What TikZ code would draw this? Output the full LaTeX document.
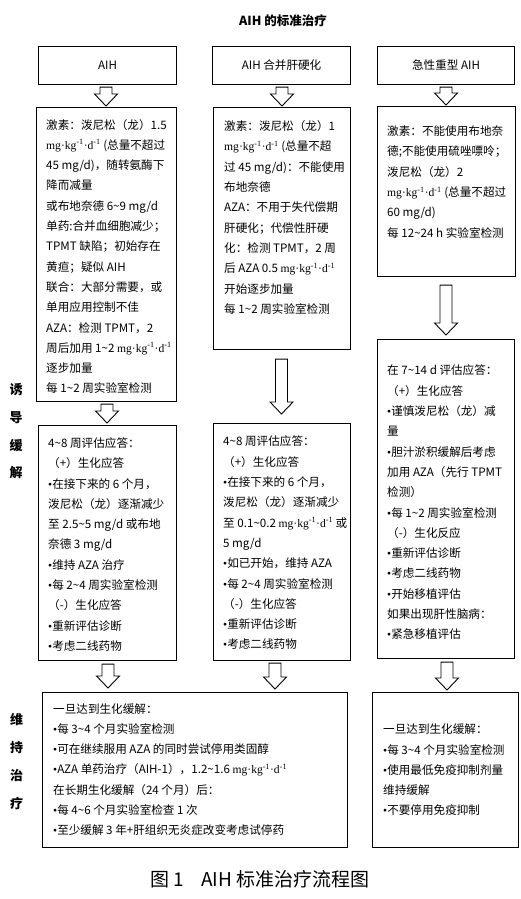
\documentclass[tikz,border=0pt]{standalone}
\usepackage{fontspec}
\setmainfont{Noto Sans CJK SC}
\newfontfamily\lat{Liberation Serif}
\usetikzlibrary{calc}
\newcommand\tl{\textasciitilde}
\newcommand\mkd{{\lat mg·kg\textsuperscript{-1}·d\textsuperscript{-1}}}
\newcommand\bul{{\lat •}}
\tikzset{
  box/.style={draw=black, line width=1.1pt, inner sep=0pt, anchor=north west,
    font=\fontsize{11.6}{14}\selectfont},
  txt/.style={font=\fontsize{11.6}{20.3}\selectfont, align=left, inner sep=0pt, anchor=west},
  side/.style={font=\fontsize{13}{27.7}\selectfont\bfseries, align=center, inner sep=0pt},
  harrow/.style={draw=black, line width=0.9pt, fill=white, line join=miter},
}
% hollow block arrow: from, to, x, gap below from, gap above to
\newcommand\harr[5]{%
  \draw[harrow] let \p1=(#1.south), \p2=(#2.north) in
    (#3pt-6pt,\y1-#4pt) -- (#3pt+6pt,\y1-#4pt) -- (#3pt+6pt,\y2+#5pt+12pt)
    -- (#3pt+11.5pt,\y2+#5pt+12pt) -- (#3pt,\y2+#5pt) -- (#3pt-11.5pt,\y2+#5pt+12pt)
    -- (#3pt-6pt,\y2+#5pt+12pt) -- cycle;}
\begin{document}
\begin{tikzpicture}[x=1pt,y=-1pt]
\useasboundingbox[fill=white] (0,0) rectangle (521,899);

\node[font=\fontsize{12.5}{15}\selectfont\bfseries, inner sep=0pt] (title) at (283,21) {AIH 的标准治疗};

% header boxes
\node[box, minimum width=138pt, minimum height=38pt] (h1) at (38,46) {AIH};
\node[box, minimum width=138pt, minimum height=38pt] (h2) at (212,46) {AIH 合并肝硬化};
\node[box, minimum width=137pt, minimum height=38pt] (h3) at (377,46) {急性重型 AIH};

% second row
\node[box, minimum width=140pt, minimum height=294pt] (b1) at (36,107) {};
\node[box, minimum width=137pt, minimum height=242pt] (b2) at (213,107) {};
\node[box, minimum width=138pt, minimum height=170pt] (b3) at (377,106) {};

% third row
\node[box, minimum width=138pt, minimum height=235pt] (c1) at (38,425) {};
\node[box, minimum width=137pt, minimum height=237pt] (c2) at (213,423) {};
\node[box, minimum width=137pt, minimum height=319pt] (c3) at (377,339) {};

% bottom row
\node[box, minimum width=305pt, minimum height=155pt] (d1) at (42,692) {};
\node[box, minimum width=146pt, minimum height=155pt] (d2) at (372,692) {};

% texts
\node[txt] (tb1) at (46,256.5) {激素：泼尼松（龙）1.5\\
\mkd{} (总量不超过\\
45 mg/d)，随转氨酶下\\
降而减量\\
或布地奈德 6\tl9 mg/d\\
单药:合并血细胞减少；\\
TPMT 缺陷；初始存在\\
黄疸；疑似 AIH\\
联合：大部分需要，或\\
单用应用控制不佳\\
AZA：检测 TPMT，2\\
周后加用 1\tl2 \mkd\\
逐步加量\\
每 1\tl2 周实验室检测};

\node[txt] (tb2) at (224,217.5) {激素：泼尼松（龙）1\\
\mkd{} (总量不超\\
过 45 mg/d)：不能使用\\
布地奈德\\
AZA：不用于失代偿期\\
肝硬化；代偿性肝硬\\
化：检测 TPMT，2 周\\
后 AZA 0.5 \mkd\\
开始逐步加量\\
每 1\tl2 周实验室检测};

\node[txt] (tb3) at (387,182) {激素：不能使用布地奈\\
德;不能使用硫唑嘌呤；\\
泼尼松（龙）2\\
\mkd{} (总量不超过\\
60 mg/d)\\
每 12\tl24 h 实验室检测};

\node[txt] (tc1) at (48,544.5) {4\tl8 周评估应答：\\
（+）生化应答\\
\bul 在接下来的 6 个月，\\
泼尼松（龙）逐渐减少\\
至 2.5\tl5 mg/d 或布地\\
奈德 3 mg/d\\
\bul 维持 AZA 治疗\\
\bul 每 2\tl4 周实验室检测\\
（-）生化应答\\
\bul 重新评估诊断\\
\bul 考虑二线药物};

\node[txt] (tc2) at (223,543) {4\tl8 周评估应答：\\
（+）生化应答\\
\bul 在接下来的 6 个月，\\
泼尼松（龙）逐渐减少\\
至 0.1\tl0.2 \mkd{} 或\\
5 mg/d\\
\bul 如已开始，维持 AZA\\
\bul 每 2\tl4 周实验室检测\\
（-）生化应答\\
\bul 重新评估诊断\\
\bul 考虑二线药物};

\node[txt] (tc3) at (387,502.5) {在 7\tl14 d 评估应答：\\
（+）生化应答\\
\bul 谨慎泼尼松（龙）减\\
量\\
\bul 胆汁淤积缓解后考虑\\
加用 AZA（先行 TPMT\\
检测）\\
\bul 每 1\tl2 周实验室检测\\
（-）生化反应\\
\bul 重新评估诊断\\
\bul 考虑二线药物\\
\bul 开始移植评估\\
如果出现肝性脑病：\\
\bul 紧急移植评估};

\node[txt] (td1) at (53,769.5) {一旦达到生化缓解：\\
\bul 每 3\tl4 个月实验室检测\\
\bul 可在继续服用 AZA 的同时尝试停用类固醇\\
\bul AZA 单药治疗（AIH-1），1.2\tl1.6 \mkd\\
在长期生化缓解（24 个月）后：\\
\bul 每 4\tl6 个月实验室检查 1 次\\
\bul 至少缓解 3 年+肝组织无炎症改变考虑试停药};

\node[txt] (td2) at (383,770) {一旦达到生化缓解：\\
\bul 每 3\tl4 个月实验室检测\\
\bul 使用最低免疫抑制剂量\\
维持缓解\\
\bul 不要停用免疫抑制};

% side labels
\node[side] (s1) at (16,431.5) {诱\\导\\缓\\解};
\node[side] (s2) at (16.5,761.5) {维\\持\\治\\疗};

% arrows
\harr{h1}{b1}{106}{2}{1}
\harr{h2}{b2}{282}{2}{1}
\harr{h3}{b3}{446}{2}{1}
\harr{b1}{c1}{107}{2}{2}
\harr{b2}{c2}{281.5}{9}{9}
\harr{b3}{c3}{446}{8}{4}
\harr{c1}{d1}{108}{3}{4}
\harr{c2}{d1}{275}{2}{3}
\harr{c3}{d2}{447}{3}{2}

% caption
\node[font=\fontsize{19}{22}\selectfont, inner sep=0pt, anchor=west] (cap) at (150,879) {图 1\hspace{0.9em}AIH 标准治疗流程图};
\end{tikzpicture}
\end{document}
